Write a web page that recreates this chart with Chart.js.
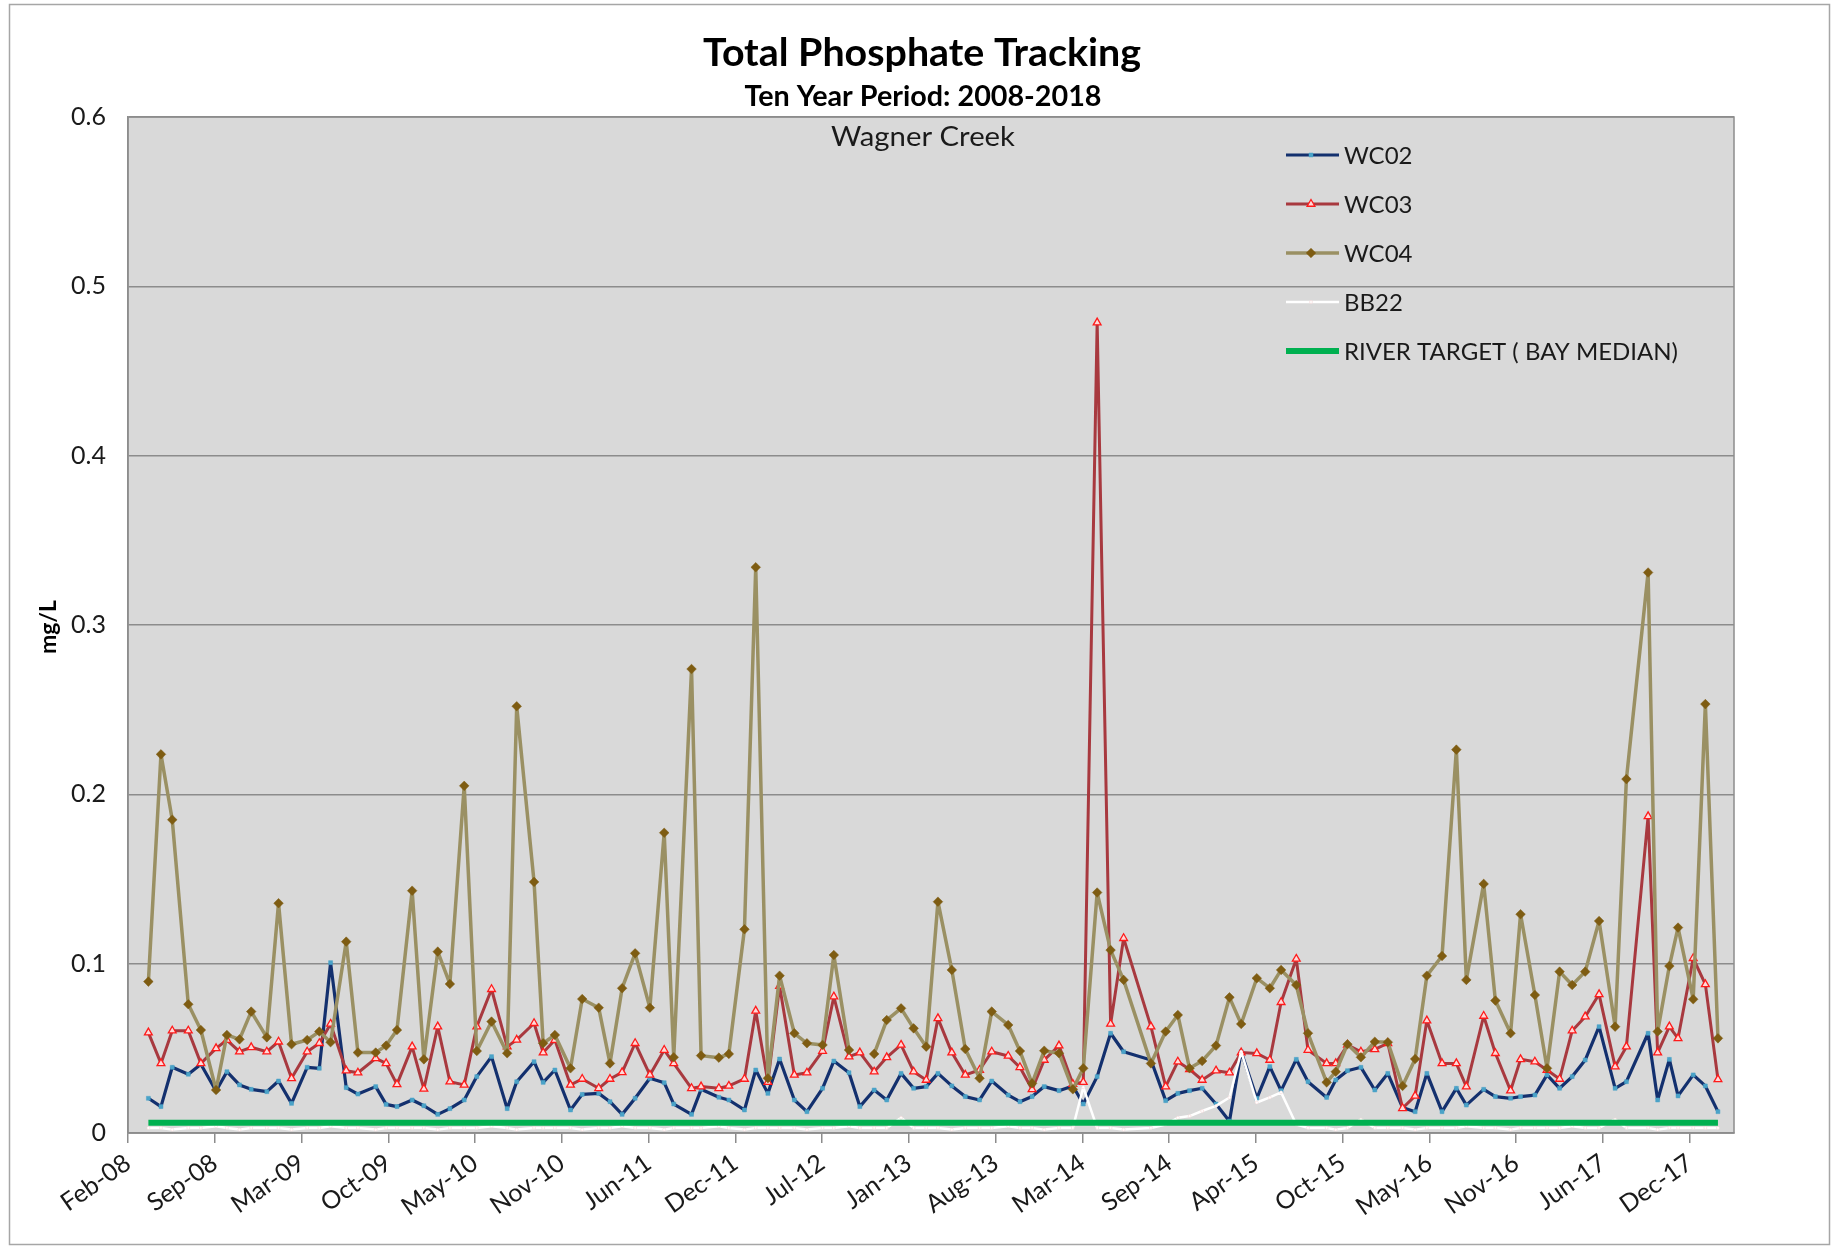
<!DOCTYPE html>
<html>
<head>
<meta charset="utf-8">
<title>Total Phosphate Tracking</title>
<script src="https://cdn.jsdelivr.net/npm/chart.js@4.4.1/dist/chart.umd.min.js"></script>
<style>
  html, body { margin: 0; padding: 0; background: #ffffff; }
  #wrap { width: 1834px; height: 1249px; position: relative; }
</style>
</head>
<body>
<div id="wrap"><canvas id="chart" width="1834" height="1249"></canvas></div>
<script>
// ---------------- DATA ----------------
const sampleDates = [
  '2008-04-09','2008-05-08','2008-06-03','2008-07-10','2008-08-08','2008-09-12','2008-10-07','2008-11-05','2008-12-02','2009-01-07',
  '2009-02-03','2009-03-05','2009-04-10','2009-05-08','2009-06-03','2009-07-09','2009-08-05','2009-09-15','2009-10-09','2009-11-03',
  '2009-12-08','2010-01-04','2010-02-05','2010-03-05','2010-04-07','2010-05-06','2010-06-09','2010-07-15','2010-08-06','2010-09-15',
  '2010-10-06','2010-11-02','2010-12-08','2011-01-04','2011-02-11','2011-03-09','2011-04-06','2011-05-06','2011-06-09','2011-07-12',
  '2011-08-03','2011-09-13','2011-10-05','2011-11-15','2011-12-08','2012-01-13','2012-02-08','2012-03-07','2012-04-03','2012-05-07',
  '2012-06-05','2012-07-11','2012-08-06','2012-09-10','2012-10-05','2012-11-07','2012-12-06','2013-01-08','2013-02-06','2013-03-07',
  '2013-04-03','2013-05-05','2013-06-05','2013-07-08','2013-08-05','2013-09-12','2013-10-09','2013-11-06','2013-12-04','2014-01-07',
  '2014-02-08','2014-03-04','2014-04-05','2014-05-06','2014-06-05','2014-08-07','2014-09-10','2014-10-08','2014-11-04','2014-12-03',
  '2015-01-04','2015-02-04','2015-03-03','2015-04-08','2015-05-08','2015-06-03','2015-07-08','2015-08-04','2015-09-16','2015-10-07',
  '2015-11-03','2015-12-04','2016-01-05','2016-02-04','2016-03-09','2016-04-07','2016-05-04','2016-06-08','2016-07-11','2016-08-03',
  '2016-09-12','2016-10-09','2016-11-13','2016-12-06','2017-01-08','2017-02-05','2017-03-06','2017-04-04','2017-05-04','2017-06-05',
  '2017-07-12','2017-08-07','2017-09-26','2017-10-18','2017-11-14','2017-12-04','2018-01-08','2018-02-05','2018-03-06'
];

const wc02 = [
  0.0205,0.0156,0.0388,0.0347,0.0406,0.0248,0.0362,0.0284,0.0258,0.0244,
  0.0307,0.0175,0.0388,0.0382,0.1006,0.0268,0.0230,0.0274,0.0169,0.0156,
  0.0195,0.0161,0.0110,0.0144,0.0195,0.0333,0.0451,0.0144,0.0303,0.0421,
  0.0299,0.0372,0.0136,0.0228,0.0234,0.0185,0.0110,0.0205,0.0323,0.0297,
  0.0171,0.0110,0.0258,0.0211,0.0195,0.0136,0.0372,0.0234,0.0437,0.0195,
  0.0126,0.0264,0.0425,0.0356,0.0156,0.0254,0.0195,0.0352,0.0264,0.0274,
  0.0352,0.0278,0.0215,0.0195,0.0307,0.0224,0.0185,0.0215,0.0274,0.0250,
  0.0278,0.0171,0.0333,0.0589,0.0480,0.0431,0.0191,0.0234,0.0250,0.0264,
  0.0171,0.0070,0.0480,0.0205,0.0392,0.0250,0.0435,0.0303,0.0210,0.0313,
  0.0368,0.0388,0.0254,0.0352,0.0150,0.0126,0.0352,0.0126,0.0264,0.0165,
  0.0258,0.0215,0.0205,0.0215,0.0224,0.0343,0.0264,0.0333,0.0431,0.0628,
  0.0264,0.0303,0.0589,0.0195,0.0435,0.0219,0.0343,0.0278,0.0126
];

const wc03 = [
  0.0593,0.0411,0.0604,0.0604,0.0411,0.0500,0.0549,0.0480,0.0506,0.0480,
  0.0539,0.0323,0.0480,0.0530,0.0644,0.0368,0.0356,0.0441,0.0411,0.0287,
  0.0510,0.0260,0.0628,0.0303,0.0284,0.0628,0.0849,0.0510,0.0550,0.0648,
  0.0475,0.0549,0.0284,0.0319,0.0264,0.0319,0.0358,0.0530,0.0343,0.0490,
  0.0411,0.0264,0.0274,0.0264,0.0278,0.0319,0.0721,0.0300,0.0868,0.0343,
  0.0356,0.0484,0.0805,0.0451,0.0475,0.0362,0.0447,0.0520,0.0362,0.0313,
  0.0677,0.0475,0.0343,0.0372,0.0480,0.0455,0.0388,0.0258,0.0431,0.0516,
  0.0289,0.0300,0.4786,0.0644,0.1150,0.0628,0.0274,0.0421,0.0376,0.0313,
  0.0368,0.0356,0.0475,0.0470,0.0431,0.0772,0.1028,0.0490,0.0411,0.0411,
  0.0520,0.0480,0.0494,0.0530,0.0146,0.0219,0.0664,0.0411,0.0411,0.0274,
  0.0691,0.0471,0.0250,0.0435,0.0421,0.0372,0.0319,0.0604,0.0687,0.0819,
  0.0392,0.0510,0.1870,0.0475,0.0628,0.0559,0.1032,0.0878,0.0317
];

const wc04 = [
  0.0894,0.2236,0.1850,0.0760,0.0608,0.0254,0.0579,0.0553,0.0717,0.0565,
  0.1357,0.0524,0.0549,0.0599,0.0536,0.1130,0.0475,0.0475,0.0516,0.0608,
  0.1431,0.0435,0.1071,0.0880,0.2050,0.0484,0.0658,0.0471,0.2520,0.1483,
  0.0530,0.0579,0.0382,0.0791,0.0740,0.0411,0.0855,0.1061,0.0740,0.1773,
  0.0447,0.2740,0.0457,0.0445,0.0467,0.1203,0.3341,0.0323,0.0929,0.0589,
  0.0530,0.0520,0.1051,0.0490,null,0.0467,0.0667,0.0736,0.0618,0.0510,
  0.1366,0.0963,0.0496,0.0323,0.0717,0.0638,0.0484,0.0293,0.0486,0.0471,
  0.0258,0.0382,0.1420,0.1080,0.0904,0.0411,0.0599,0.0697,0.0382,0.0425,
  0.0516,0.0801,0.0644,0.0914,0.0855,0.0963,0.0874,0.0589,0.0299,0.0362,
  0.0524,0.0447,0.0539,0.0536,0.0278,0.0437,0.0929,0.1045,0.2264,0.0904,
  0.1471,0.0782,0.0589,0.1292,0.0815,0.0382,0.0953,0.0874,0.0953,0.1252,
  0.0628,0.2090,0.3310,0.0599,0.0986,0.1213,0.0790,0.2533,0.0559
];

const bb22 = [
  0.003,0.003,0.002,0.003,0.003,0.004,0.003,0.002,0.003,0.003,
  0.003,0.002,0.003,0.003,0.004,0.003,0.003,0.002,0.003,0.003,
  0.003,0.003,0.002,0.003,0.003,0.003,0.004,0.003,0.002,0.003,
  0.003,0.003,0.003,0.002,0.003,0.003,0.004,0.003,0.003,0.002,
  0.003,0.003,0.003,0.004,0.003,0.002,0.003,0.003,0.003,0.003,
  0.002,0.003,0.003,0.004,0.003,0.003,0.003,0.009,0.003,0.003,
  0.003,0.002,0.003,0.003,0.003,0.004,0.003,0.003,0.002,0.003,
  0.003,0.027,0.003,0.003,0.002,0.003,0.005,0.009,0.010,0.013,
  0.016,0.021,0.048,0.018,0.021,0.024,0.005,0.003,0.003,0.002,
  0.003,0.008,0.003,0.003,0.003,0.002,0.003,0.003,0.003,0.004,
  0.003,0.003,0.002,0.003,0.003,0.003,0.003,0.004,0.003,0.003,
  0.008,0.003,0.003,0.002,0.003,0.003,0.003,0.003,0.003
];

const riverTarget = 0.006;

const seriesNames = ['WC02', 'WC03', 'WC04', 'BB22', 'RIVER TARGET ( BAY MEDIAN)'];
const xTickLabels = ['Feb-08','Sep-08','Mar-09','Oct-09','May-10','Nov-10','Jun-11','Dec-11','Jul-12','Jan-13',
                     'Aug-13','Mar-14','Sep-14','Apr-15','Oct-15','May-16','Nov-16','Jun-17','Dec-17'];
const yTickLabels = ['0','0.1','0.2','0.3','0.4','0.5','0.6'];
const chartTitle = 'Total Phosphate Tracking';
const chartSubtitle = 'Ten Year Period: 2008-2018';
const plotLabel = 'Wagner Creek';
const yAxisTitle = 'mg/L';

// date axis settings (Excel date axis: base in days, major unit 200 days)
const axisStartDate = '2008-02-22';
const majorUnitDays = 200;
const axisSpanDays = 3702;

// ---------------- HELPERS ----------------
const DAY_MS = 86400000;
function parseUTC(s) { const p = s.split('-').map(Number); return Date.UTC(p[0], p[1] - 1, p[2]); }
const axisStartMs = parseUTC(axisStartDate);
function dayOf(s) { return (parseUTC(s) - axisStartMs) / DAY_MS; }
const xDays = sampleDates.map(dayOf);
const toPoints = arr => arr.map((v, i) => ({ x: xDays[i], y: v }));
const targetPoints = [
  { x: xDays[0], y: riverTarget },
  { x: xDays[xDays.length - 1], y: riverTarget }
];

const FONT = 'Lato, "Open Sans", "DejaVu Sans", sans-serif';
const PLOT = { left: 128, top: 117, right: 1734, bottom: 1133 };

// draw text whose width is fitted to a target by a slight horizontal squeeze (Calibri-like proportions)
function fittedText(ctx, text, weight, size, targetWidth, cx, baseline) {
  ctx.font = weight + ' ' + size + 'px ' + FONT;
  const w = ctx.measureText(text).width;
  const sx = targetWidth / w;
  ctx.save();
  ctx.translate(cx, baseline);
  ctx.scale(sx, 1);
  ctx.textAlign = 'center';
  ctx.textBaseline = 'alphabetic';
  ctx.fillText(text, 0, 0);
  ctx.restore();
}

// background / plot area / border / texts / legend
const excelDecor = {
  id: 'excelDecor',
  beforeDraw(chart) {
    const { ctx, chartArea: a } = chart;
    ctx.save();
    ctx.fillStyle = '#ffffff';
    ctx.fillRect(0, 0, chart.width, chart.height);
    ctx.fillStyle = '#d9d9d9';
    ctx.fillRect(a.left, a.top, a.right - a.left, a.bottom - a.top);
    ctx.restore();
  },
  afterDraw(chart) {
    const { ctx, chartArea: a } = chart;
    ctx.save();
    // plot-area border
    ctx.strokeStyle = '#8c8c8c';
    ctx.lineWidth = 1.5;
    ctx.strokeRect(a.left, a.top, a.right - a.left, a.bottom - a.top);
    // outer chart border
    ctx.strokeStyle = '#a6a6a6';
    ctx.lineWidth = 1.5;
    ctx.strokeRect(9.5, 4.5, 1820, 1240);

    ctx.fillStyle = '#000000';
    fittedText(ctx, chartTitle, 'bold', 39, 438, 922, 66);
    fittedText(ctx, chartSubtitle, 'bold', 28, 357, 923, 106);
    ctx.fillStyle = '#1a1a1a';
    fittedText(ctx, plotLabel, 'normal', 27, 184, 923, 146);

    // y axis title
    ctx.save();
    ctx.translate(49, 627);
    ctx.rotate(-Math.PI / 2);
    ctx.fillStyle = '#000000';
    ctx.font = 'bold 23px ' + FONT;
    ctx.textAlign = 'center';
    ctx.textBaseline = 'middle';
    ctx.fillText(yAxisTitle, 0, 0);
    ctx.restore();

    // legend (Excel-like, inside the plot)
    const dsets = chart.data.datasets;
    dsets.forEach((ds, i) => {
      const y = 155 + i * 49;
      ctx.save();
      ctx.strokeStyle = ds.borderColor;
      ctx.lineWidth = ds.borderWidth;
      ctx.beginPath();
      ctx.moveTo(1286, y);
      ctx.lineTo(1339, y);
      ctx.stroke();
      if (ds.pointRadius > 0) {
        ctx.fillStyle = ds.pointBackgroundColor;
        ctx.strokeStyle = ds.pointBorderColor;
        ctx.lineWidth = ds.pointBorderWidth;
        Chart.helpers.drawPoint(ctx, {
          pointStyle: ds.pointStyle, radius: ds.pointRadius,
          rotation: 0, borderWidth: ds.pointBorderWidth
        }, 1311, y);
      }
      ctx.fillStyle = '#1a1a1a';
      ctx.font = 'normal 24px ' + FONT;
      ctx.textAlign = 'left';
      ctx.textBaseline = 'middle';
      ctx.fillText(ds.label, 1344, y + 1);
      ctx.restore();
    });
    ctx.restore();
  }
};

const ctx = document.getElementById('chart').getContext('2d');
new Chart(ctx, {
  type: 'line',
  data: {
    datasets: [
      {
        label: seriesNames[0], data: toPoints(wc02), order: 5,
        borderColor: '#13306e', borderWidth: 3.2,
        pointStyle: 'rect', pointRadius: 2.8,
        pointBackgroundColor: '#4aa3c8', pointBorderColor: '#4aa3c8', pointBorderWidth: 0.5
      },
      {
        label: seriesNames[1], data: toPoints(wc03), order: 4,
        borderColor: '#a8393f', borderWidth: 3,
        pointStyle: 'triangle', pointRadius: 4.5,
        pointBackgroundColor: '#ffd9d9', pointBorderColor: '#ff1a1a', pointBorderWidth: 1.3
      },
      {
        label: seriesNames[2], data: toPoints(wc04), order: 3,
        borderColor: '#9a9063', borderWidth: 3.5,
        pointStyle: 'rectRot', pointRadius: 4.8,
        pointBackgroundColor: '#7e5c12', pointBorderColor: '#7e5c12', pointBorderWidth: 0.5
      },
      {
        label: seriesNames[3], data: toPoints(bb22), order: 2,
        borderColor: '#ffffff', borderWidth: 2.5,
        pointStyle: 'circle', pointRadius: 1.5,
        pointBackgroundColor: '#ffffff', pointBorderColor: '#f2d0d0', pointBorderWidth: 0.5
      },
      {
        label: seriesNames[4], data: targetPoints, order: 1,
        borderColor: '#00b050', borderWidth: 6,
        pointRadius: 0, pointBackgroundColor: '#00b050', pointBorderColor: '#00b050', pointBorderWidth: 0
      }
    ]
  },
  options: {
    responsive: false,
    animation: false,
    devicePixelRatio: 1,
    spanGaps: false,
    elements: { line: { tension: 0, borderCapStyle: 'butt', borderJoinStyle: 'round' } },
    layout: { padding: { left: 0, top: PLOT.top, right: 1834 - PLOT.right, bottom: 0 } },
    plugins: {
      legend: { display: false },
      title: { display: false },
      tooltip: { enabled: false }
    },
    scales: {
      x: {
        type: 'linear',
        min: 0,
        max: axisSpanDays,
        afterBuildTicks(scale) {
          scale.ticks = xTickLabels.map((_, i) => ({ value: i * majorUnitDays }));
        },
        afterFit(scale) { scale.height = 1249 - PLOT.bottom; },
        grid: {
          display: true, drawOnChartArea: false, drawTicks: true,
          tickLength: 10, color: '#8c8c8c', lineWidth: 1.5
        },
        border: { display: true, color: '#8c8c8c', width: 1.5 },
        ticks: {
          autoSkip: false, minRotation: 35, maxRotation: 35, padding: 5,
          color: '#1a1a1a', font: { family: FONT, size: 25 },
          callback: (v, i) => xTickLabels[i]
        }
      },
      y: {
        type: 'linear',
        min: 0, max: 0.6,
        afterFit(scale) { scale.width = PLOT.left; },
        grid: { color: '#8c8c8c', lineWidth: 1.5, drawTicks: false },
        border: { display: true, color: '#8c8c8c', width: 1.5 },
        ticks: {
          stepSize: 0.1, padding: 22,
          color: '#1a1a1a', font: { family: FONT, size: 25 },
          callback: (v, i) => yTickLabels[i]
        }
      }
    }
  },
  plugins: [excelDecor]
});
</script>
</body>
</html>
